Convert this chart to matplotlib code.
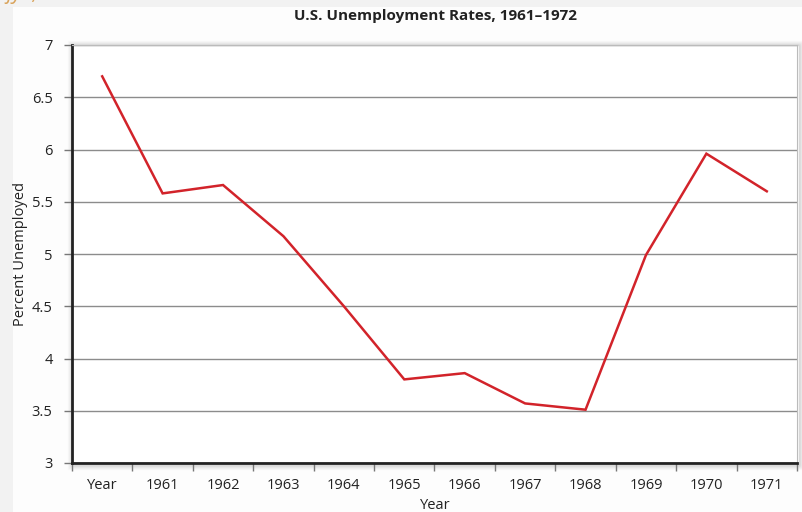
import matplotlib
matplotlib.use("Agg")
import matplotlib.pyplot as plt
from matplotlib.patches import Rectangle
import numpy as np

# unemployment series, category labels as printed on the axis
labels = ["Year", "1961", "1962", "1963", "1964", "1965", "1966",
          "1967", "1968", "1969", "1970", "1971"]
rates = [6.70, 5.58, 5.66, 5.17, 4.50, 3.80, 3.86, 3.57, 3.51, 4.99, 5.96, 5.60]
yticks = [3, 3.5, 4, 4.5, 5, 5.5, 6, 6.5, 7]
ytick_labels = ["3", "3.5", "4", "4.5", "5", "5.5", "6", "6.5", "7"]

plt.rcParams["font.family"] = ["Open Sans", "DejaVu Sans"]

W, H = 802, 512
fig = plt.figure(figsize=(W / 100, H / 100), dpi=100, facecolor="#f2f2f2")

# white page panel
fig.patches.append(Rectangle((13 / W, 0), 1, 1 - 7 / H, transform=fig.transFigure,
                             facecolor="#fdfdfd", edgecolor="none", zorder=0))

# faint orange heading running off the top edge
fig.text(6 / W, 1 + 6 / H, "fy  ,", color="#d9a35a", fontsize=15, style="italic",
         ha="left", va="center")

L, R, T, B = 72, 797, 45, 463
ax = fig.add_axes([L / W, 1 - B / H, (R - L) / W, (B - T) / H])
ax.set_zorder(5)

# soft drop shadow around the plot box
for i, a in enumerate([0.12, 0.09, 0.06, 0.04, 0.02]):
    d = i + 1
    fig.patches.append(Rectangle(((L - d + 1) / W, 1 - (B + d + 1) / H), (R - L + 2 * d) / W,
                                 (B - T + 2 * d) / H, transform=fig.transFigure,
                                 facecolor="none", edgecolor="black", lw=1.0,
                                 alpha=a, zorder=1))

x = np.arange(len(labels))
ax.plot(x, rates, color="#d2232a", lw=1.8, zorder=3, solid_joinstyle="miter")

ax.set_xlim(-0.5, len(labels) - 0.5)
ax.set_ylim(3, 7)
ax.set_yticks(yticks)
ax.set_yticklabels(ytick_labels)
ax.set_xticks(x)
ax.set_xticklabels(labels)
ax.set_xticks(np.arange(-0.5, len(labels), 1), minor=True)
ax.tick_params(axis="x", which="major", length=0, pad=11, labelsize=10.5, colors="#222222")
ax.tick_params(axis="x", which="minor", length=6, width=1, color="#777777", direction="out")
ax.tick_params(axis="y", length=6, width=1, color="#777777", pad=8, labelsize=10.5,
               labelcolor="#222222")

ax.grid(axis="y", color="#8c8c8c", lw=1.0, zorder=1)
ax.set_axisbelow(True)
ax.set_facecolor("white")

for s in ["left", "bottom"]:
    ax.spines[s].set_color("#222222")
    ax.spines[s].set_linewidth(2)
for s in ["top", "right"]:
    ax.spines[s].set_color("#bbbbbb")
    ax.spines[s].set_linewidth(0.8)

ax.set_xlabel("Year", fontsize=10.5, color="#222222")
ax.xaxis.set_label_coords((435 - L) / (R - L), -(498 - B) / (B - T))
ax.set_ylabel("Percent Unemployed", fontsize=10.5, color="#222222")
ax.yaxis.set_label_coords(-(L - 28) / (R - L), 0.5)
fig.text(435 / W, 1 - 16 / H, "U.S. Unemployment Rates, 1961\u20131972",
         ha="center", va="center", fontsize=11, fontweight="bold", color="#222222")

fig.savefig("out.png", dpi=100, facecolor=fig.get_facecolor())
